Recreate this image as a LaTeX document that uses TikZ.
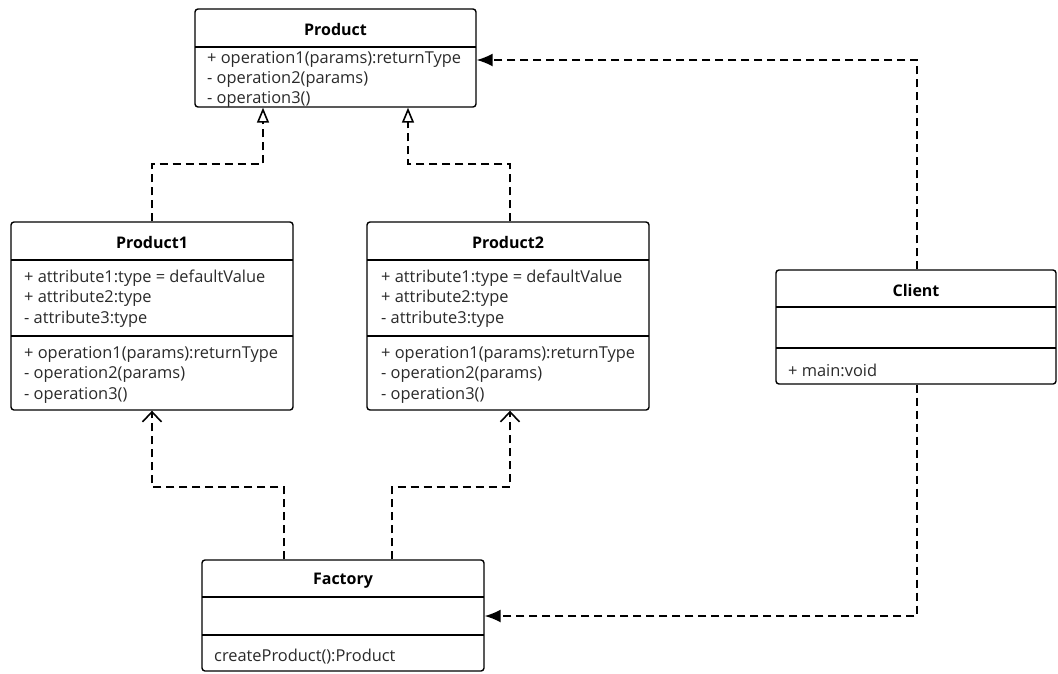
\documentclass[tikz,border=0pt]{standalone}
\usepackage{fontspec}
\setmainfont{Open Sans}
\usetikzlibrary{arrows.meta}
\definecolor{txt}{HTML}{2A2A2A}
\tikzset{
  cls/.style={draw=black, line width=1.4pt, rounded corners=3pt, inner sep=0pt},
  sep/.style={line width=1.4pt},
  title/.style={font=\fontsize{16}{18}\selectfont\bfseries, text=black, inner sep=0pt},
  member/.style={font=\fontsize{16.4}{18}\selectfont, text=txt, anchor=west, inner sep=0pt},
  link/.style={line width=1.6pt, dash pattern=on 8pt off 5pt},
  realize/.style={link, -{Triangle[open, length=15pt, width=12pt, line width=1.6pt]}},
  depend/.style={link, -{Straight Barb[length=10pt, width=19pt, line width=1.6pt]}},
  assoc/.style={link, -{Latex[length=16pt, width=13pt]}}
}
\begin{document}
\begin{tikzpicture}[x=1pt, y=-1pt]
\useasboundingbox (0,0) rectangle (1058,673);

% Product
\node[cls, minimum width=281pt, minimum height=98pt] (prod) at (335.5,58) {};
\draw[sep] (195,47) -- (476,47);
\node[title] (prodT) at (335.5,29) {Product};
\node[member] (prodO1) at (207,59) {+ operation1(params):returnType};
\node[member] (prodO2) at (207,79) {- operation2(params)};
\node[member] (prodO3) at (207,99) {- operation3()};

% Product1
\node[cls, minimum width=282pt, minimum height=188pt] (pa) at (152,316) {};
\draw[sep] (11,260) -- (293,260);
\draw[sep] (11,336) -- (293,336);
\node[title] (paT) at (152,242) {Product1};
\node[member] (paA1) at (24,278) {+ attribute1:type = defaultValue};
\node[member] (paA2) at (24,298) {+ attribute2:type};
\node[member] (paA3) at (24,319) {- attribute3:type};
\node[member] (paO1) at (24,354) {+ operation1(params):returnType};
\node[member] (paO2) at (24,374) {- operation2(params)};
\node[member] (paO3) at (24,395) {- operation3()};

% Product2
\node[cls, minimum width=282pt, minimum height=188pt] (pb) at (508,316) {};
\draw[sep] (367,260) -- (649,260);
\draw[sep] (367,336) -- (649,336);
\node[title] (pbT) at (508,242) {Product2};
\node[member] (pbA1) at (381,278) {+ attribute1:type = defaultValue};
\node[member] (pbA2) at (381,298) {+ attribute2:type};
\node[member] (pbA3) at (381,319) {- attribute3:type};
\node[member] (pbO1) at (381,354) {+ operation1(params):returnType};
\node[member] (pbO2) at (381,374) {- operation2(params)};
\node[member] (pbO3) at (381,395) {- operation3()};

% Client
\node[cls, minimum width=280pt, minimum height=114pt] (cl) at (916,327) {};
\draw[sep] (776,307) -- (1056,307);
\draw[sep] (776,348) -- (1056,348);
\node[title] (clT) at (916,290) {Client};
\node[member] (clO1) at (788,370) {+ main:void};

% Factory
\node[cls, minimum width=282pt, minimum height=111pt] (fa) at (343,615.5) {};
\draw[sep] (202,597) -- (484,597);
\draw[sep] (202,635) -- (484,635);
\node[title] (faT) at (343,581) {Factory};
\node[member] (faO1) at (214,657) {createProduct():Product};

% attachment points
\coordinate (prodL) at ([xshift=-72.5pt]prod.south);
\coordinate (prodR) at ([xshift=72.5pt]prod.south);
\coordinate (prodE) at (prod.east |- 0,60);
\coordinate (faL) at ([xshift=-59pt]fa.north);
\coordinate (faR) at ([xshift=49pt]fa.north);
\coordinate (faE) at (fa.east |- 0,616);
\coordinate (clN) at ([xshift=1pt]cl.north);
\coordinate (clS) at ([xshift=1pt]cl.south);
\coordinate (pbS) at ([xshift=2pt]pb.south);
\coordinate (pbN) at ([xshift=2pt]pb.north);

% realizations
\draw[realize] (pa.north) -- (pa.north |- 0,164) -| (prodL);
\draw[realize] (pbN) -- (pbN |- 0,164) -| (prodR);
% dependencies
\draw[depend] (faL) -- (faL |- 0,487) -| (pa.south);
\draw[depend] (faR) -- (faR |- 0,487) -| (pbS);
% associations from Client
\draw[assoc] (clN) |- (prodE);
\draw[assoc] (clS) |- (faE);
\end{tikzpicture}
\end{document}
